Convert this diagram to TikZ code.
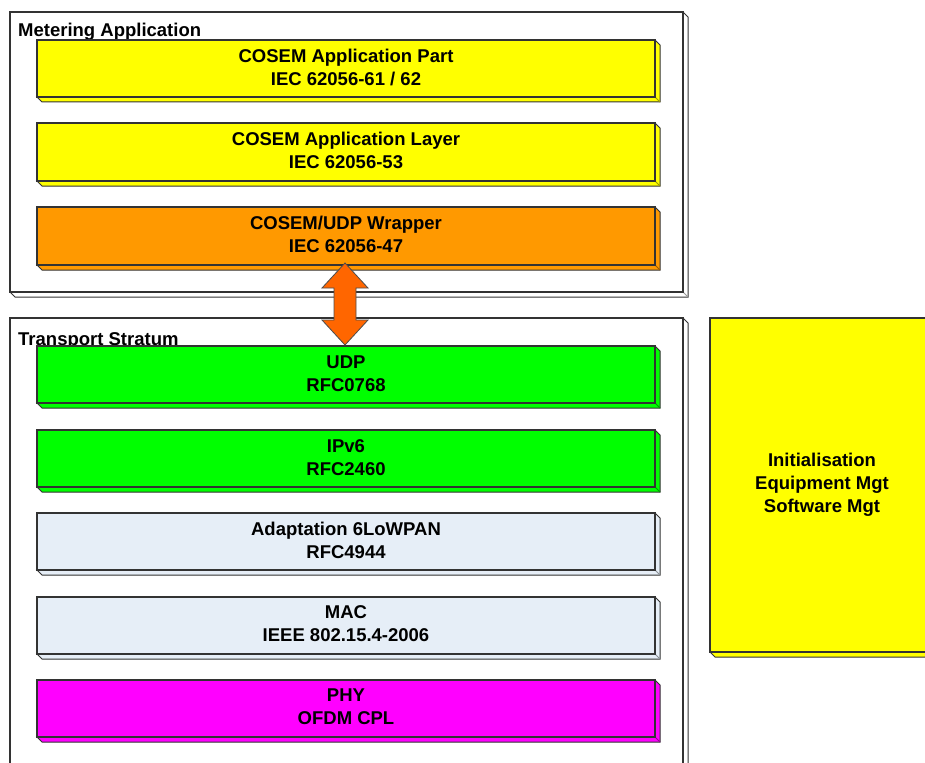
\documentclass[tikz,border=0pt]{standalone}
\usepackage{fontspec}
\setmainfont{Liberation Sans}
\usetikzlibrary{arrows.meta}
\definecolor{cyel}{HTML}{FFFF00}
\definecolor{corg}{HTML}{FF9900}
\definecolor{cgrn}{HTML}{00FF00}
\definecolor{cgry}{HTML}{E6EEF7}
\definecolor{cmag}{HTML}{FF00FF}
\definecolor{carr}{HTML}{FF6600}
\definecolor{cedge}{HTML}{333333}
\begin{document}
\begin{tikzpicture}[x=1pt,y=-1pt,
  txt/.style={font=\bfseries\fontsize{18.5}{23}\selectfont,align=center,text=black,inner sep=0pt},
  lbl/.style={font=\bfseries\fontsize{18.5}{20}\selectfont,anchor=base west,inner sep=0pt},
]
\useasboundingbox (0,0) rectangle (925,762);
% bevelled box: #1 x1, #2 y1, #3 x2, #4 y2, #5 fill
\newcommand{\bbox}[5]{%
  \fill[#5,draw=cedge,line width=1pt] (#3,#2) -- (#3+5,#2+5) -- (#3+5,#4+5) -- (#1+5,#4+5) -- (#1,#4) -- cycle;
  \draw[#5!60!black,line width=0.8pt] (#3+5,#4+5) -- (#3,#4);
  \fill[#5,draw=cedge,line width=1.3pt] (#1,#2) rectangle (#3,#4);
}
% outer containers
\bbox{10}{12}{683}{292}{white}
\bbox{10}{318}{683}{770}{white}
\node[lbl] (metlbl) at (18,37) {Metering Application};
\node[lbl] (trlbl) at (18,345) {Transport Stratum};
% layers
\bbox{37}{40}{655}{97}{cyel}
\node[txt] (part) at (346,67) {COSEM Application Part\\IEC 62056-61 / 62};
\bbox{37}{123}{655}{181}{cyel}
\node[txt] (layer) at (346,150) {COSEM Application Layer\\IEC 62056-53};
\bbox{37}{207}{655}{265}{corg}
\node[txt] (wrap) at (346,234) {COSEM/UDP Wrapper\\IEC 62056-47};
\bbox{37}{346}{655}{403}{cgrn}
\node[txt] (udp) at (346,374) {UDP\\RFC0768};
\bbox{37}{430}{655}{487}{cgrn}
\node[txt] (ipv6) at (346,458) {IPv6\\RFC2460};
\bbox{37}{513}{655}{570}{cgry}
\node[txt] (adapt) at (346,540) {Adaptation 6LoWPAN\\RFC4944};
\bbox{37}{597}{655}{654}{cgry}
\node[txt] (mac) at (346,624) {MAC\\IEEE 802.15.4-2006};
\bbox{37}{680}{655}{737}{cmag}
\node[txt] (phy) at (346,707) {PHY\\OFDM CPL};
% side box
\bbox{710}{318}{930}{652}{cyel}
\node[txt] (mgt) at (822,485) {Initialisation\\Equipment Mgt\\Software Mgt};
% double arrow
\coordinate (atop) at (345,263);
\coordinate (abot) at (345,345);
\fill[carr,draw=black!70,line width=0.8pt]
  (345,263) -- (368,288) -- (356,288) -- (356,320) -- (368,320) -- (345,345)
  -- (322,320) -- (334,320) -- (334,288) -- (322,288) -- cycle;
\end{tikzpicture}
\end{document}
